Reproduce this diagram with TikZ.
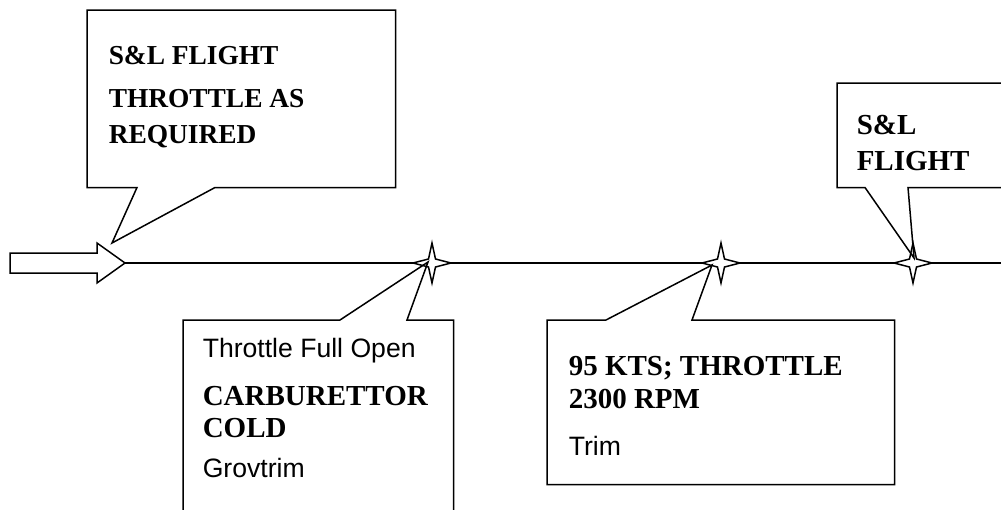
\documentclass[tikz,border=0pt]{standalone}
\usepackage{fontspec}
\setmainfont{Liberation Serif}
\setsansfont{Liberation Sans}
\usetikzlibrary{calc}
\newcommand\hd{\fontsize{14.5}{17}\selectfont\rmfamily\bfseries}
\newcommand\hdsm{\fontsize{13.7}{17}\selectfont\rmfamily\bfseries}
\newcommand\nt{\fontsize{13.3}{17}\selectfont\sffamily}

\begin{document}
\begin{tikzpicture}[
  x=0.5pt, y=-0.5pt,
  line width=0.75pt,
  panel/.style   = {inner sep=0, anchor=north west},
  callout/.style = {draw, line join=miter},
  spark/.style   = {draw, fill=white, line join=miter},
  txt/.style     = {anchor=base west, align=left, inner sep=0, font=\fontsize{14.5}{17}\selectfont},
  flow/.style    = {draw},
]
  \useasboundingbox (0,0) rectangle (1001,509);
  \clip (0,0) rectangle (1001,509);

  % entry arrow and time line
  \draw (10,253) -- (97,253) -- (97,243) -- (125,263) -- (97,283) -- (97,273) -- (10,273) -- cycle;
  \coordinate (entry) at (125,263);
  \coordinate (s1) at (432,263);
  \coordinate (s2) at (721,263);
  \coordinate (s3) at (913,263);
  \coordinate (lineend) at (1001,263);
  \draw[flow] (entry) -- (s1) -- (s2) -- (s3) -- (lineend);
  \foreach \s in {s1, s2, s3}
    \draw[spark, shift={(\s)}] (0,-20) -- (3.5,-4) -- (19,0) -- (3.5,4) -- (0,20)
      -- (-3.5,4) -- (-19,0) -- (-3.5,-4) -- cycle;

  % callout boxes
  \node[panel, minimum width=153.5pt, minimum height=88pt]  (box1) at (87,10)   {};
  \node[panel, minimum width=134.5pt, minimum height=100pt] (box2) at (183,320)  {};
  \node[panel, minimum width=173pt,   minimum height=81.5pt] (box3) at (547,320) {};
  \node[panel, minimum width=90pt,    minimum height=51.5pt] (box4) at (837,83)  {};

  \draw[callout] (box1.north west) -- (box1.north east) -- (box1.south east)
    -- ($(box1.south west)+(128,0)$) -- (112,243) -- ($(box1.south west)+(50,0)$) -- (box1.south west) -- cycle;
  \draw[callout] (box2.south west) -- (box2.north west) -- ($(box2.north west)+(157,0)$)
    -- ($(s1)+(-4,-1)$) -- ($(box2.north west)+(224,0)$) -- (box2.north east) -- (box2.south east);
  \draw[callout] (box3.south west) -- (box3.north west) -- ($(box3.north west)+(59,0)$)
    -- ($(s2)+(-9,2)$) -- ($(box3.north west)+(145,0)$) -- (box3.north east) -- (box3.south east) -- cycle;
  \draw[callout] (box4.north east) -- (box4.north west) -- (box4.south west) -- ($(box4.south west)+(28,0)$)
    -- ($(s3)+(1,-5)$) -- ($(box4.south west)+(71,0)$) -- (box4.south east);

  % texts
  \node[txt] (t1) at (108,143) {\hdsm S\&L FLIGHT\\[4.5pt] \hdsm THROTTLE AS\\[1pt] \hdsm REQUIRED};
  \node[txt] (t2) at (202,477) {\nt Throttle Full Open\\[7pt] \hd CARBURETTOR\\[-1pt] \hd COLD\\[3pt] \nt Grovtrim};
  \node[txt] (t3) at (568,455) {\hd 95 KTS; THROTTLE\\[-0.5pt] \hd 2300 RPM\\[6.5pt] \nt Trim};
  \node[txt] (t4) at (856,170) {\hd S\&L\\[1pt] \hd FLIGHT};
\end{tikzpicture}
\end{document}
